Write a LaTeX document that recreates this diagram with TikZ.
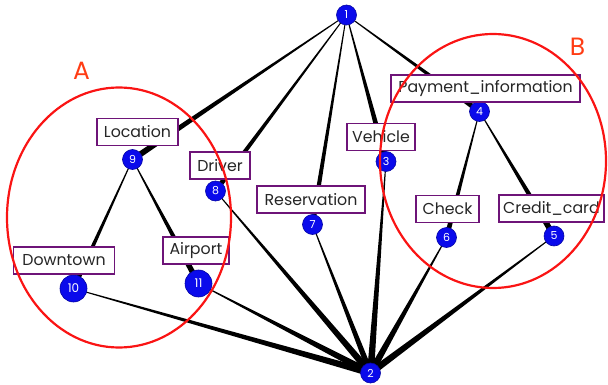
\documentclass[tikz,border=0pt]{standalone}
\usepackage{fontspec}
\setmainfont{Poppins}
\usetikzlibrary{calc}
\pgfdeclarelayer{bg}
\pgfsetlayers{bg,main}
\definecolor{nodeblue}{RGB}{10,10,235}
\definecolor{boxpurple}{RGB}{110,20,120}
\definecolor{ringred}{RGB}{250,20,20}
\definecolor{letterred}{RGB}{255,60,20}
\newcommand{\taper}[3]{\fill[black] ($(#1.center)!0.4pt!90:(#2.center)$) -- ($(#1.center)!0.4pt!-90:(#2.center)$) -- ($(#2.center)!#3!90:(#1.center)$) -- ($(#2.center)!#3!-90:(#1.center)$) -- cycle;}
\tikzset{
  vtx/.style={circle, fill=nodeblue, draw=nodeblue!70!black, line width=0.6pt, inner sep=0pt, minimum size=20pt, text=white, font=\fontsize{11}{11}\selectfont},
  bigvtx/.style={vtx, minimum size=27pt, font=\fontsize{12}{12}\selectfont},
  lbl/.style={draw=boxpurple, line width=1.8pt, fill=white, inner sep=0pt, text=black!85, font=\fontsize{15.8}{15.8}\selectfont},
  ring/.style={draw=ringred, line width=2.2pt},
  grp/.style={text=letterred, font=\fontsize{25}{25}\selectfont}
}
\begin{document}
\begin{tikzpicture}[x=1pt,y=-1pt]
\useasboundingbox (0,0) rectangle (608,385);
% vertices
\node[vtx] (n1) at (346.5,15) {1};
\node[vtx] (n2) at (370.5,373) {2};
\node[vtx] (n3) at (386,161.5) {3};
\node[vtx] (n4) at (479.5,111.5) {4};
\node[vtx] (n5) at (554,236) {5};
\node[vtx] (n6) at (446.5,237.5) {6};
\node[vtx] (n7) at (312.5,224.5) {7};
\node[vtx] (n8) at (215.5,191) {8};
\node[vtx] (n9) at (132.5,159.5) {9};
\node[bigvtx] (n10) at (73.5,288.5) {10};
\node[bigvtx] (n11) at (198.5,283.5) {11};
% edges
\begin{pgfonlayer}{bg}
\taper{n1}{n9}{3pt}
\taper{n1}{n8}{2.5pt}
\taper{n1}{n7}{2.5pt}
\taper{n1}{n3}{3pt}
\taper{n1}{n4}{2.5pt}
\taper{n9}{n10}{2.5pt}
\taper{n9}{n11}{3pt}
\taper{n4}{n6}{2.5pt}
\taper{n4}{n5}{3pt}
\taper{n10}{n2}{3.5pt}
\taper{n11}{n2}{3.5pt}
\taper{n8}{n2}{3.5pt}
\taper{n7}{n2}{3pt}
\taper{n3}{n2}{3.5pt}
\taper{n6}{n2}{3.5pt}
\taper{n5}{n2}{3.5pt}
\end{pgfonlayer}
% labels
\node[lbl, minimum width=81pt, minimum height=27pt] (lLoc) at (137.5,132) {Location};
\node[lbl, minimum width=60pt, minimum height=27pt] (lDrv) at (220,165.5) {Driver};
\node[lbl, minimum width=68pt, minimum height=27pt] (lVeh) at (381,137) {Vehicle};
\node[lbl, minimum width=189pt, minimum height=27pt] (lPay) at (485.5,88.5) {Payment\_information};
\node[lbl, minimum width=108pt, minimum height=27pt] (lRes) at (311,199.5) {Reservation};
\node[lbl, minimum width=63pt, minimum height=27pt] (lChk) at (447.5,209) {Check};
\node[lbl, minimum width=105pt, minimum height=27pt] (lCc) at (551.5,208.5) {Credit\_card};
\node[lbl, minimum width=101pt, minimum height=27pt] (lDt) at (64,260.5) {Downtown};
\node[lbl, minimum width=66pt, minimum height=27pt] (lAir) at (196,250.5) {Airport};
% groups
\draw[ring] (119,217.5) ellipse [x radius=112, y radius=130];
\draw[ring] (493,161) ellipse [x radius=113, y radius=127];
\node[grp] (gA) at (81.5,71) {A};
\node[grp] (gB) at (577.5,47) {B};
\end{tikzpicture}
\end{document}
